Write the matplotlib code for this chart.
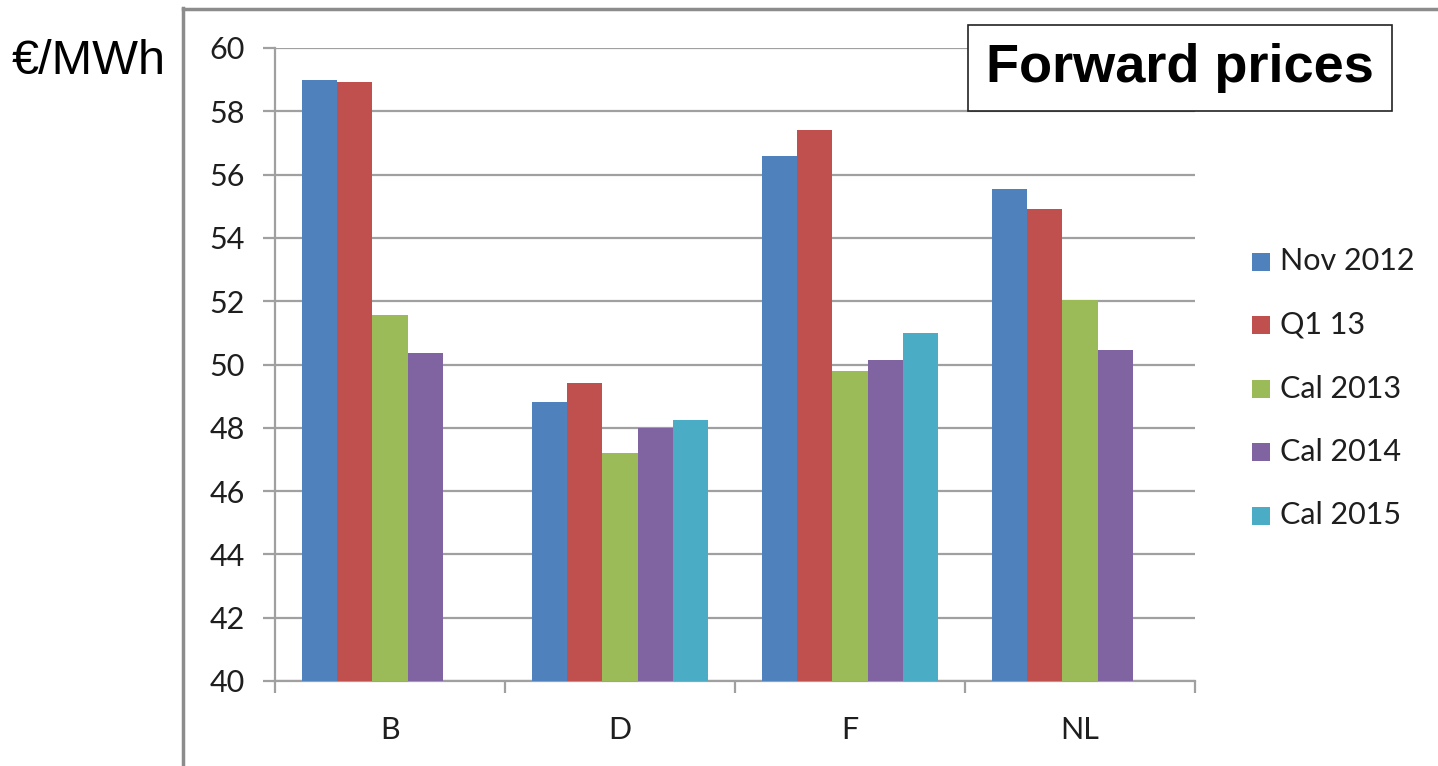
import matplotlib.pyplot as plt
import numpy as np
from matplotlib.patches import Rectangle
from matplotlib.lines import Line2D

# forward prices per market, €/MWh
markets = ['B', 'D', 'F', 'NL']
series = ['Nov 2012', 'Q1 13', 'Cal 2013', 'Cal 2014', 'Cal 2015']
nov_2012 = [59.0, 48.8, 56.6, 55.55]
q1_13 = [58.93, 49.4, 57.4, 54.9]
cal_2013 = [51.55, 47.2, 49.8, 52.05]
cal_2014 = [50.35, 48.0, 50.15, 50.45]
cal_2015 = [np.nan, 48.25, 51.0, np.nan]
colors = ['#4F81BD', '#C0504D', '#9BBB59', '#8064A2', '#4BACC6']

values = [nov_2012, q1_13, cal_2013, cal_2014, cal_2015]

W, H = 1438, 766
fig = plt.figure(figsize=(W / 100, H / 100), dpi=100)
ax = fig.add_axes([275/W, 1-681/H, 920/W, 633/H])

grid_c = '#a0a0a0'
n = len(series)
gap = 1.5  # gap width relative to one bar
w = 1.0 / (n + gap)
x = np.arange(len(markets))
for i, (vals, c) in enumerate(zip(values, colors)):
    offs = -0.5 + gap * w / 2 + (i + 0.5) * w
    ax.bar(x + offs, np.array(vals) - 40, width=w, bottom=40, color=c,
           edgecolor='none', zorder=3)

ax.set_xlim(-0.5, len(markets) - 0.5)
ax.set_ylim(40, 60)
ax.set_yticks(np.arange(40, 61, 2))
ax.yaxis.grid(True, color=grid_c, linewidth=1.6, zorder=0)
ax.set_axisbelow(True)

ax.set_xticks(x)
ax.set_xticklabels(markets)
ax.set_xticks(np.arange(-0.5, len(markets)), minor=True)
ax.tick_params(axis='x', which='major', length=0, pad=25)
ax.tick_params(axis='x', which='minor', length=8.5, width=1.6, color=grid_c)
ax.tick_params(axis='y', length=8.5, width=1.6, color=grid_c, pad=13)

for s in ['top', 'right']:
    ax.spines[s].set_visible(False)
for s in ['left', 'bottom']:
    ax.spines[s].set_color(grid_c)
    ax.spines[s].set_linewidth(1.6)

for lab in ax.get_xticklabels() + ax.get_yticklabels():
    lab.set_fontfamily('Lato')
    lab.set_fontsize(22)
    lab.set_color('#1e1e1e')

# legend on the right, one square + label per series
for i, (name, c) in enumerate(zip(series, colors)):
    yc = 261.5 + i * 63.5
    fig.add_artist(Rectangle((1252/W, 1-(yc+9)/H), 18/W, 18/H,
                             transform=fig.transFigure, facecolor=c,
                             edgecolor='none'))
    fig.text(1280/W, 1-yc/H, name, family='Lato', fontsize=22,
             color='#1e1e1e', va='center', ha='left')

# outer frame lines
fig.add_artist(Line2D([183/W, 183/W], [0, 1-8/H],
                      color='#8c8c8c', linewidth=2.5))
fig.add_artist(Line2D([183/W, 1], [1-9/H, 1-9/H],
                      color='#8c8c8c', linewidth=2.5))

fig.text(12/W, 1-62/H, '€/MWh', family='Liberation Sans', fontsize=35,
         va='center', ha='left')
fig.text(1180/W, 1-68/H, 'Forward prices', family='Liberation Sans',
         fontsize=39, fontweight='bold', va='center', ha='center',
         bbox=dict(boxstyle='square,pad=0.33', facecolor='white',
                   edgecolor='#222222', linewidth=1.2))

fig.savefig('out.png', dpi=100)
